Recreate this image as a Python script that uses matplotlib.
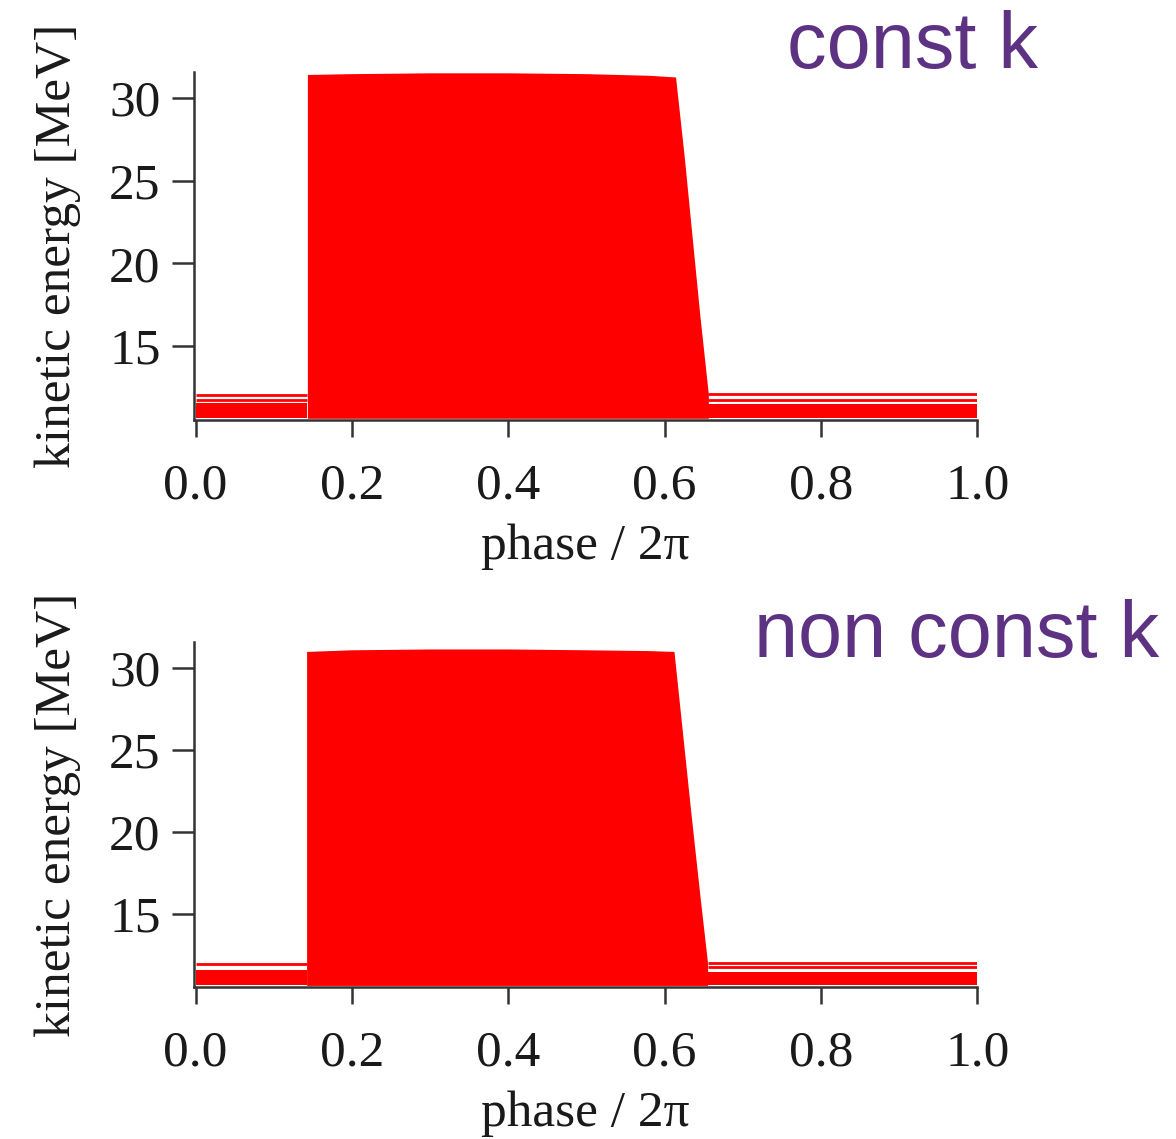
import matplotlib
matplotlib.use("Agg")
import matplotlib.pyplot as plt

# phase / 2pi along the outline of the red block, energies in MeV
phase_const = [0.143, 0.143, 0.2, 0.3, 0.4, 0.5, 0.58, 0.614, 0.625, 0.635, 0.645, 0.656]
energy_const = [12.1, 31.4, 31.45, 31.5, 31.5, 31.45, 31.35, 31.25, 26.5, 21.7, 16.9, 12.1]

phase_nonconst = [0.142, 0.142, 0.2, 0.3, 0.4, 0.5, 0.58, 0.612, 0.623, 0.634, 0.645, 0.655]
energy_nonconst = [12.0, 31.0, 31.1, 31.15, 31.15, 31.1, 31.05, 31.0, 26.0, 21.0, 16.2, 12.0]

# flat bands outside the block (lowest / highest particle energies)
band_floor = 10.65
band_fill_const = [11.55, 11.5]      # solid part, left / right
band_lines_const = [[11.78, 12.05], [11.75, 12.1]]
band_fill_nonconst = [11.6, 11.45]
band_lines_nonconst = [[11.95], [11.75, 12.0]]

labels = ["const k", "non const k"]
xticks = [0.0, 0.2, 0.4, 0.6, 0.8, 1.0]
yticks = [15, 20, 25, 30]

RED = "#ff0000"
PURPLE = "#5e3282"

plt.rcParams["font.family"] = ["Liberation Serif", "DejaVu Serif"]

fig = plt.figure(figsize=(11.76, 11.39), dpi=100)

panels = [
    dict(rect=[0.165, 0.6313, 0.666, 0.3055], phase=phase_const, energy=energy_const,
         fill=band_fill_const, lines=band_lines_const, label=labels[0], lx=0.776, ly=0.940),
    dict(rect=[0.165, 0.1334, 0.666, 0.3026], phase=phase_nonconst, energy=energy_nonconst,
         fill=band_fill_nonconst, lines=band_lines_nonconst, label=labels[1], lx=0.813, ly=0.423),
]

for p in panels:
    ax = fig.add_axes(p["rect"])
    ph = p["phase"]
    en = p["energy"]
    x_left, x_right = ph[0], ph[-1]

    # the block itself
    ax.fill_between(ph, band_floor, en, color=RED, lw=0)
    # flat bands left and right
    ax.fill_between([0.0, x_left], band_floor, p["fill"][0], color=RED, lw=0)
    ax.fill_between([x_right, 1.0], band_floor, p["fill"][1], color=RED, lw=0)
    for e in p["lines"][0]:
        ax.hlines(e, 0.0, x_left, color=RED, lw=2.0)
    for e in p["lines"][1]:
        ax.hlines(e, x_right, 1.0, color=RED, lw=2.0)

    ax.set_xlim(-0.002, 1.0)
    ax.set_ylim(10.55, 31.55)
    ax.set_xticks(xticks)
    ax.set_xticklabels([f"{t:.1f}" for t in xticks])
    ax.set_yticks(yticks)

    for side in ["top", "right"]:
        ax.spines[side].set_visible(False)
    for side in ["left", "bottom"]:
        ax.spines[side].set_linewidth(1.8)
        ax.spines[side].set_color("#333333")
    ax.tick_params(axis="x", direction="out", length=12, width=1.8, pad=19,
                   labelsize=37, colors="#333333", labelcolor="#1a1a1a")
    ax.tick_params(axis="y", direction="out", length=16, width=1.8, pad=8,
                   labelsize=37, colors="#333333", labelcolor="#1a1a1a")

    ax.set_xlabel("phase / 2π", fontsize=37, labelpad=10, color="#1a1a1a")
    ax.set_ylabel("kinetic energy [MeV]", fontsize=37, labelpad=20, color="#1a1a1a")

    fig.text(p["lx"], p["ly"], p["label"], fontsize=57, color=PURPLE,
             family="Liberation Sans", ha="center", va="baseline")

fig.savefig("out.png", dpi=100, facecolor="white")
